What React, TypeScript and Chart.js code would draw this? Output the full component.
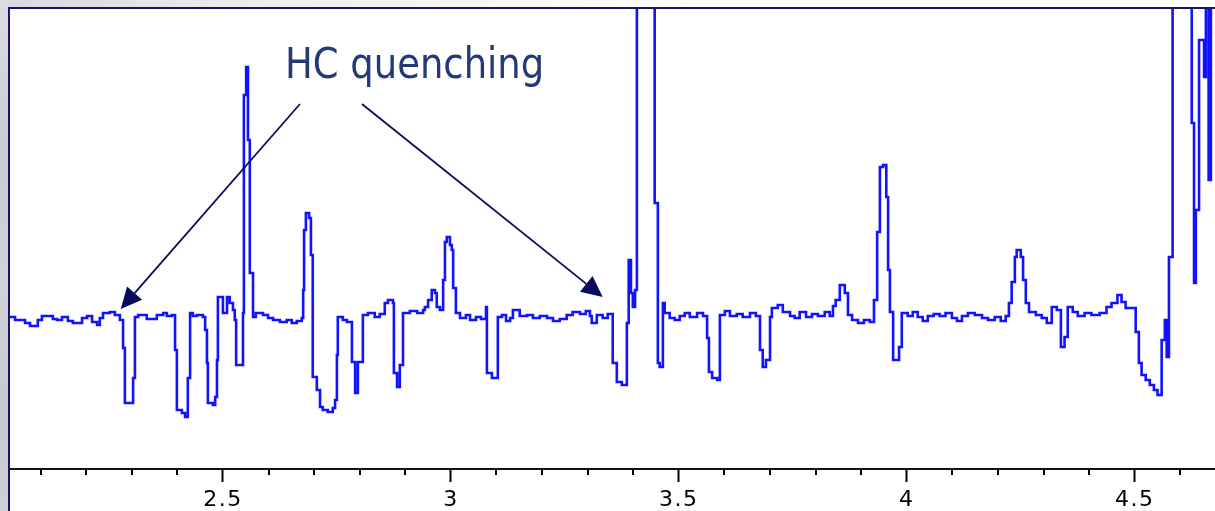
import React, { useEffect, useRef } from 'react';
import { Chart, registerables } from 'chart.js';

Chart.register(...registerables);

// chemical shift (x, ppm) of each step start
const shiftPpm = [
  2.033, 2.044, 2.066, 2.077, 2.094, 2.103, 2.127, 2.136, 2.147, 2.160,
  2.171, 2.191, 2.202, 2.213, 2.224, 2.230, 2.237, 2.252, 2.263, 2.274,
  2.281, 2.285, 2.303, 2.307, 2.314, 2.333, 2.355, 2.369, 2.377, 2.388,
  2.395, 2.399, 2.410, 2.417, 2.423, 2.428, 2.434, 2.443, 2.456, 2.461,
  2.465, 2.467, 2.478, 2.483, 2.487, 2.489, 2.500, 2.509, 2.515, 2.522,
  2.526, 2.529, 2.544, 2.546, 2.551, 2.555, 2.559, 2.566, 2.572, 2.588,
  2.599, 2.610, 2.625, 2.640, 2.651, 2.662, 2.673, 2.676, 2.678, 2.682,
  2.689, 2.693, 2.697, 2.706, 2.713, 2.719, 2.730, 2.741, 2.746, 2.750,
  2.752, 2.763, 2.772, 2.783, 2.790, 2.796, 2.807, 2.818, 2.833, 2.844,
  2.855, 2.862, 2.873, 2.875, 2.882, 2.888, 2.895, 2.910, 2.926, 2.939,
  2.943, 2.950, 2.958, 2.965, 2.969, 2.976, 2.983, 2.987, 2.991, 2.998,
  3.002, 3.005, 3.011, 3.020, 3.033, 3.042, 3.055, 3.066, 3.077, 3.079,
  3.090, 3.103, 3.112, 3.121, 3.130, 3.136, 3.151, 3.167, 3.180, 3.195,
  3.211, 3.224, 3.239, 3.254, 3.267, 3.283, 3.296, 3.305, 3.309, 3.320,
  3.333, 3.344, 3.355, 3.364, 3.375, 3.386, 3.390, 3.395, 3.399, 3.404,
  3.408, 3.447, 3.454, 3.458, 3.465, 3.469, 3.480, 3.491, 3.502, 3.513,
  3.524, 3.540, 3.553, 3.562, 3.566, 3.573, 3.584, 3.590, 3.601, 3.612,
  3.627, 3.640, 3.656, 3.669, 3.678, 3.684, 3.691, 3.700, 3.704, 3.717,
  3.728, 3.744, 3.754, 3.765, 3.779, 3.792, 3.805, 3.820, 3.831, 3.838,
  3.844, 3.853, 3.864, 3.871, 3.880, 3.893, 3.906, 3.919, 3.928, 3.935,
  3.941, 3.948, 3.955, 3.959, 3.963, 3.970, 3.983, 3.989, 4.002, 4.013,
  4.024, 4.035, 4.046, 4.059, 4.072, 4.085, 4.099, 4.110, 4.121, 4.134,
  4.149, 4.165, 4.178, 4.193, 4.206, 4.217, 4.224, 4.230, 4.237, 4.241,
  4.250, 4.255, 4.261, 4.268, 4.283, 4.296, 4.307, 4.318, 4.329, 4.338,
  4.346, 4.353, 4.364, 4.375, 4.390, 4.405, 4.423, 4.438, 4.449, 4.462,
  4.471, 4.480, 4.502, 4.509, 4.515, 4.524, 4.533, 4.542, 4.550, 4.559,
  4.566, 4.570, 4.575, 4.583, 4.625, 4.630, 4.634, 4.641, 4.652, 4.656,
  4.662, 4.667, 4.676,
];

// signal intensity (arbitrary units)
const intensity = [
  152, 149, 146, 143, 149, 153, 150, 149, 152, 148,
  146, 151, 153, 147, 144, 151, 156, 157, 154, 149,
  121, 66, 91, 152, 154, 150, 154, 156, 153, 154,
  119, 59, 56, 52, 91, 156, 153, 154, 152, 139,
  106, 66, 64, 72, 109, 172, 156, 172, 166, 159,
  149, 104, 156, 374, 402, 329, 196, 152, 156, 154,
  151, 149, 147, 149, 146, 148, 151, 179, 239, 256,
  251, 214, 92, 79, 62, 59, 57, 61, 69, 114,
  152, 149, 147, 107, 76, 107, 154, 156, 152, 155,
  166, 169, 166, 96, 82, 104, 156, 158, 156, 159,
  162, 169, 179, 176, 162, 159, 189, 227, 232, 224,
  219, 181, 156, 151, 154, 149, 152, 150, 162, 96,
  91, 152, 154, 148, 151, 159, 153, 154, 151, 153,
  151, 148, 150, 154, 157, 155, 158, 153, 146, 154,
  151, 155, 106, 87, 84, 146, 209, 176, 162, 179,
  650, 266, 106, 102, 166, 156, 151, 149, 153, 156,
  152, 156, 153, 131, 97, 91, 89, 154, 158, 153,
  155, 152, 156, 153, 119, 102, 109, 152, 161, 164,
  157, 153, 151, 157, 152, 155, 153, 157, 153, 163,
  169, 184, 176, 154, 149, 146, 149, 147, 169, 237,
  302, 304, 272, 199, 157, 109, 122, 156, 153, 157,
  152, 148, 153, 155, 153, 156, 151, 148, 153, 156,
  154, 151, 149, 152, 148, 153, 166, 187, 212, 219,
  212, 189, 166, 157, 154, 151, 146, 162, 159, 122,
  132, 162, 157, 153, 156, 154, 156, 162, 166, 174,
  167, 161, 137, 106, 94, 89, 84, 79, 74, 129,
  149, 112, 212, 650, 346, 186, 259, 429, 392, 650,
  289, 650, 650,
];

const xMin = 2.033;
const xMax = 4.676;
const yMin = 0;
const yMax = 460;

const majorTickValues = [2.5, 3, 3.5, 4, 4.5];
const majorTickLabels = ['2.5', '3', '3.5', '4', '4.5'];
const minorTickValues = [
  2.1, 2.2, 2.3, 2.4, 2.6, 2.7, 2.8, 2.9, 3.1, 3.2, 3.3, 3.4,
  3.6, 3.7, 3.8, 3.9, 4.1, 4.2, 4.3, 4.4, 4.6,
];

// annotation: label and arrows (data coordinates)
const annotationText = 'HC quenching';
const annotationAnchor = [2.636, 391];
const arrowTails = [[2.669, 365], [2.805, 365]];
const arrowTips = [[2.276, 160], [3.333, 172]];

const decorPlugin = {
  id: 'decor',
  beforeDraw(chart: any) {
    const { ctx, width, height } = chart;
    ctx.save();
    ctx.fillStyle = '#ffffff';
    ctx.fillRect(0, 0, width, height);
    const gTop = ctx.createLinearGradient(0, 0, 700, 0);
    gTop.addColorStop(0, '#d9d9dd');
    gTop.addColorStop(0.4, '#eeeeef');
    gTop.addColorStop(1, '#ffffff');
    ctx.fillStyle = gTop;
    ctx.fillRect(0, 0, width, 8);
    const gLeft = ctx.createLinearGradient(0, 0, 0, height);
    gLeft.addColorStop(0, '#dcdce0');
    gLeft.addColorStop(0.3, '#c9cbd4');
    gLeft.addColorStop(0.55, '#d2d3d8');
    gLeft.addColorStop(0.8, '#c6c8d1');
    gLeft.addColorStop(1, '#d0d1d6');
    ctx.fillStyle = gLeft;
    ctx.fillRect(0, 0, 9, height);
    ctx.restore();
    ctx.letterSpacing = '1.5px';
  },
  beforeDatasetsDraw(chart: any) {
    chart.ctx.letterSpacing = '0px';
  },
  afterDatasetsDraw(chart: any) {
    const { ctx, chartArea, width, height } = chart;
    const xs = chart.scales.x;
    const ys = chart.scales.y;
    ctx.save();
    ctx.letterSpacing = '0px';
    // minor ticks
    ctx.strokeStyle = '#000';
    ctx.lineWidth = 2;
    ctx.beginPath();
    for (const v of minorTickValues) {
      const px = Math.round(xs.getPixelForValue(v));
      ctx.moveTo(px, chartArea.bottom);
      ctx.lineTo(px, chartArea.bottom + 6);
    }
    ctx.stroke();
    // frame
    ctx.strokeStyle = '#14146e';
    ctx.lineWidth = 2;
    ctx.beginPath();
    ctx.moveTo(9, height);
    ctx.lineTo(9, 8);
    ctx.lineTo(width, 8);
    ctx.stroke();
    // arrows
    ctx.strokeStyle = '#0a0a5c';
    ctx.fillStyle = '#0a0a5c';
    ctx.lineWidth = 1.8;
    for (let i = 0; i < arrowTips.length; i++) {
      const x0 = xs.getPixelForValue(arrowTails[i][0]);
      const y0 = ys.getPixelForValue(arrowTails[i][1]);
      const x1 = xs.getPixelForValue(arrowTips[i][0]);
      const y1 = ys.getPixelForValue(arrowTips[i][1]);
      const ang = Math.atan2(y1 - y0, x1 - x0);
      const len = 21;
      const hw = 10;
      const bx = x1 - len * Math.cos(ang);
      const by = y1 - len * Math.sin(ang);
      ctx.beginPath();
      ctx.moveTo(x0, y0);
      ctx.lineTo(bx, by);
      ctx.stroke();
      ctx.beginPath();
      ctx.moveTo(x1, y1);
      ctx.lineTo(bx + hw * Math.sin(ang), by - hw * Math.cos(ang));
      ctx.lineTo(bx - hw * Math.sin(ang), by + hw * Math.cos(ang));
      ctx.closePath();
      ctx.fill();
    }
    // label
    const tx = xs.getPixelForValue(annotationAnchor[0]);
    const ty = ys.getPixelForValue(annotationAnchor[1]);
    ctx.translate(tx, ty);
    ctx.scale(0.88, 1);
    ctx.font = '42px "DejaVu Sans"';
    ctx.fillStyle = '#243a78';
    ctx.textBaseline = 'alphabetic';
    ctx.textAlign = 'left';
    ctx.fillText(annotationText, 0, 0);
    ctx.restore();
  },
};

export default function App() {
  const canvasRef = useRef<HTMLCanvasElement | null>(null);

  useEffect(() => {
    const canvas = canvasRef.current;
    if (!canvas) return;
    const points = shiftPpm.map((x, i) => ({ x, y: intensity[i] }));
    const chart = new Chart(canvas, {
      type: 'line',
      data: {
        datasets: [
          {
            data: points,
            borderColor: '#1212ff',
            borderWidth: 2.6,
            pointRadius: 0,
            stepped: true,
            fill: false,
            tension: 0,
          },
        ],
      },
      options: {
        animation: false,
        responsive: false,
        devicePixelRatio: 1,
        layout: { padding: { left: 10, top: 9, right: 0, bottom: 0 } },
        plugins: {
          legend: { display: false },
          title: { display: false },
          tooltip: { enabled: false },
        },
        scales: {
          x: {
            type: 'linear',
            min: xMin,
            max: xMax,
            afterBuildTicks: (s: any) => {
              s.ticks = majorTickValues.map((v) => ({ value: v }));
            },
            afterFit: (s: any) => {
              s.height = 42;
            },
            ticks: {
              autoSkip: false,
              maxRotation: 0,
              padding: 5,
              color: '#000',
              font: { family: 'DejaVu Sans', size: 22 },
              callback: (_v: any, index: number) => majorTickLabels[index],
            },
            grid: {
              drawOnChartArea: false,
              drawTicks: true,
              tickLength: 13,
              tickColor: '#000',
              tickWidth: 2,
            },
            border: { display: true, color: '#111', width: 2 },
          },
          y: {
            type: 'linear',
            display: false,
            min: yMin,
            max: yMax,
          },
        },
      },
      plugins: [decorPlugin],
    });
    return () => chart.destroy();
  }, []);

  return (
    <div style={{ position: 'fixed', left: 0, top: 0, width: 1215, height: 511 }}>
      <canvas ref={canvasRef} width={1215} height={511} style={{ display: 'block' }} />
    </div>
  );
}
